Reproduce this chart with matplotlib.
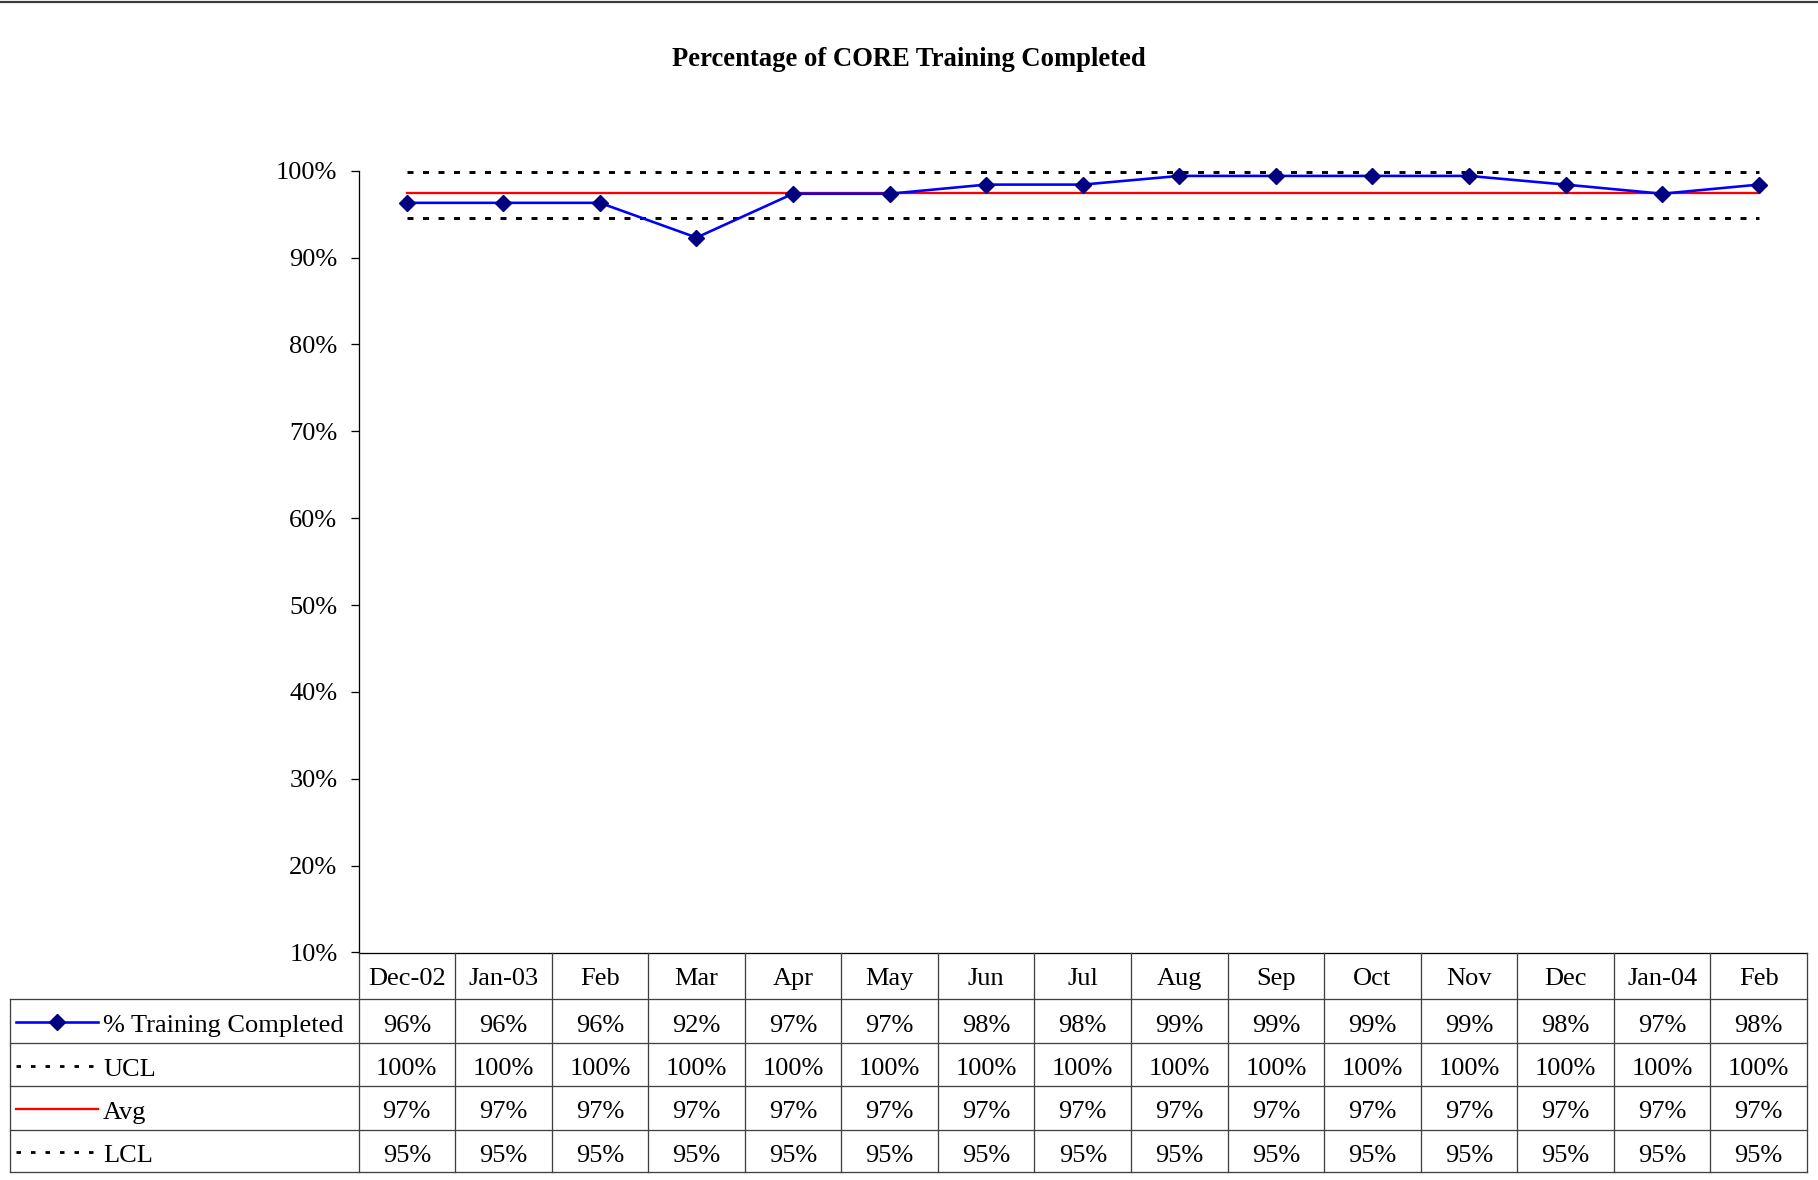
import numpy as np
import matplotlib
matplotlib.use('Agg')
import matplotlib.pyplot as plt
from matplotlib.lines import Line2D
from matplotlib.ticker import FuncFormatter

# ---------------- data ----------------
categories = ['Dec-02', 'Jan-03', 'Feb', 'Mar', 'Apr', 'May', 'Jun', 'Jul',
              'Aug', 'Sep', 'Oct', 'Nov', 'Dec', 'Jan-04', 'Feb']
training = [96.3, 96.3, 96.3, 92.3, 97.35, 97.35, 98.4, 98.4,
            99.4, 99.4, 99.4, 99.4, 98.4, 97.35, 98.4]
ucl = [99.9, 99.9, 99.9, 99.9, 99.9, 99.9, 99.9, 99.9,
       99.9, 99.9, 99.9, 99.9, 99.9, 99.9, 99.9]
avg = [97.45, 97.45, 97.45, 97.45, 97.45, 97.45, 97.45, 97.45,
       97.45, 97.45, 97.45, 97.45, 97.45, 97.45, 97.45]
lcl = [94.6, 94.6, 94.6, 94.6, 94.6, 94.6, 94.6, 94.6,
       94.6, 94.6, 94.6, 94.6, 94.6, 94.6, 94.6]
series_names = ['% Training Completed', 'UCL', 'Avg', 'LCL']
yticks = [10, 20, 30, 40, 50, 60, 70, 80, 90, 100]
title = 'Percentage of CORE Training Completed'

# ---------------- style / layout ----------------
plt.rcParams['font.family'] = ['Liberation Serif', 'DejaVu Serif']
plt.rcParams['lines.scale_dashes'] = False

W_PX, H_PX = 1818, 1180
DPI = 100
PX = 72.0 / DPI  # points per pixel

fig = plt.figure(figsize=(W_PX / DPI, H_PX / DPI), dpi=DPI)

x_left, x_right = 358.5, 1807.0      # plot/table column area in px
y_top, y_axis, y_bottom = 170.7, 952.5, 1172.0

def fx(px):
    return px / W_PX

def fy(py):
    return 1 - py / H_PX

ax = fig.add_axes([fx(x_left), fy(y_axis), fx(x_right) - fx(x_left), fy(y_top) - fy(y_axis)])
n = len(categories)
x = np.arange(n)
ax.set_xlim(-0.5, n - 0.5)
ax.set_ylim(yticks[0], yticks[-1])
ax.set_xticks([])
ax.set_yticks(yticks)
ax.yaxis.set_major_formatter(FuncFormatter(lambda v, p: f"{v:.0f}%"))
ax.tick_params(axis='y', direction='out', length=8 * PX, width=1.3 * PX,
               pad=13 * PX, labelsize=19, colors='black')
for s in ['top', 'right', 'bottom']:
    ax.spines[s].set_visible(False)
ax.spines['left'].set_linewidth(1.3 * PX)
ax.spines['left'].set_color('black')
ax.patch.set_alpha(0)

MS = 12 * PX
dot_style = dict(color='black', lw=2.9 * PX, linestyle=(0, (6 * PX, 9.5 * PX)),
                 solid_capstyle='butt', dash_capstyle='butt', clip_on=False)
ax.plot(x, ucl, zorder=2, **dot_style)
ax.plot(x, lcl, zorder=2, **dot_style)
ax.plot(x, avg, color='#FF0000', lw=2.3 * PX, zorder=3, clip_on=False)
ax.plot(x, training, color='#0000FF', lw=2.6 * PX, marker='D', markersize=MS,
        markerfacecolor='#000080', markeredgecolor='#000080', zorder=4, clip_on=False)

# title
fig.text(0.5, fy(66), title, ha='center', va='baseline', fontsize=19.2, fontweight='bold')

# top border line
fig.add_artist(Line2D([0, 1], [fy(1.5), fy(1.5)], transform=fig.transFigure,
                      color='#3a3a3a', lw=2.2 * PX))

# ---------------- data table ----------------
tax = fig.add_axes([fx(x_left), fy(y_bottom), fx(x_right) - fx(x_left), fy(y_axis) - fy(y_bottom)])
tax.set_xlim(-0.5, n - 0.5)
tbl_h = y_bottom - y_axis
tax.set_ylim(tbl_h, 0)
tax.axis('off')

colw = (x_right - x_left) / n
def dx(px):
    return -0.5 - (x_left - px) / colw

row_edges = [0, 46.5, 90.0, 133.5, 177.0, tbl_h]
grid_kw = dict(color='#404040', lw=1.3 * PX, clip_on=False, solid_capstyle='projecting')
lab_left = dx(10)

# horizontal lines
tax.plot([-0.5, n - 0.5], [row_edges[0]] * 2, color='black', lw=1.3 * PX, clip_on=False)
for r in row_edges[1:]:
    tax.plot([lab_left, n - 0.5], [r, r], **grid_kw)
# vertical lines
for c in range(n + 1):
    tax.plot([c - 0.5, c - 0.5], [row_edges[0], row_edges[-1]], **grid_kw)
tax.plot([lab_left, lab_left], [row_edges[1], row_edges[-1]], **grid_kw)

fs = 19
base_off = 32.5
for i, cat in enumerate(categories):
    tax.text(i, row_edges[0] + base_off, cat, ha='center', va='baseline', fontsize=fs)

rows = [training, ucl, avg, lcl]
for r, vals in enumerate(rows):
    top = row_edges[r + 1]
    for i, v in enumerate(vals):
        tax.text(i, top + base_off, f"{round(v):.0f}%", ha='center', va='baseline', fontsize=fs)

# legend keys + labels
key_x = [dx(16.5), dx(98)]
text_x = dx(103)
for r, name in enumerate(series_names):
    top = row_edges[r + 1]
    mid = (top + row_edges[r + 2]) / 2 + 1.5
    if r == 0:
        tax.plot(key_x, [mid, mid], color='#0000FF', lw=2.6 * PX, clip_on=False)
        tax.plot([np.mean(key_x)], [mid], marker='D', markersize=MS, color='#000080',
                 clip_on=False, linestyle='none')
    elif r == 2:
        tax.plot(key_x, [mid, mid], color='#FF0000', lw=2.3 * PX, clip_on=False)
    else:
        tax.plot(key_x, [mid, mid], color='black', lw=2.8 * PX,
                 linestyle=(0, (4.5 * PX, 10 * PX)), dash_capstyle='butt', clip_on=False)
    tax.text(text_x, top + base_off + 0.5, name, ha='left', va='baseline', fontsize=fs)

fig.savefig('out.png', dpi=DPI)
